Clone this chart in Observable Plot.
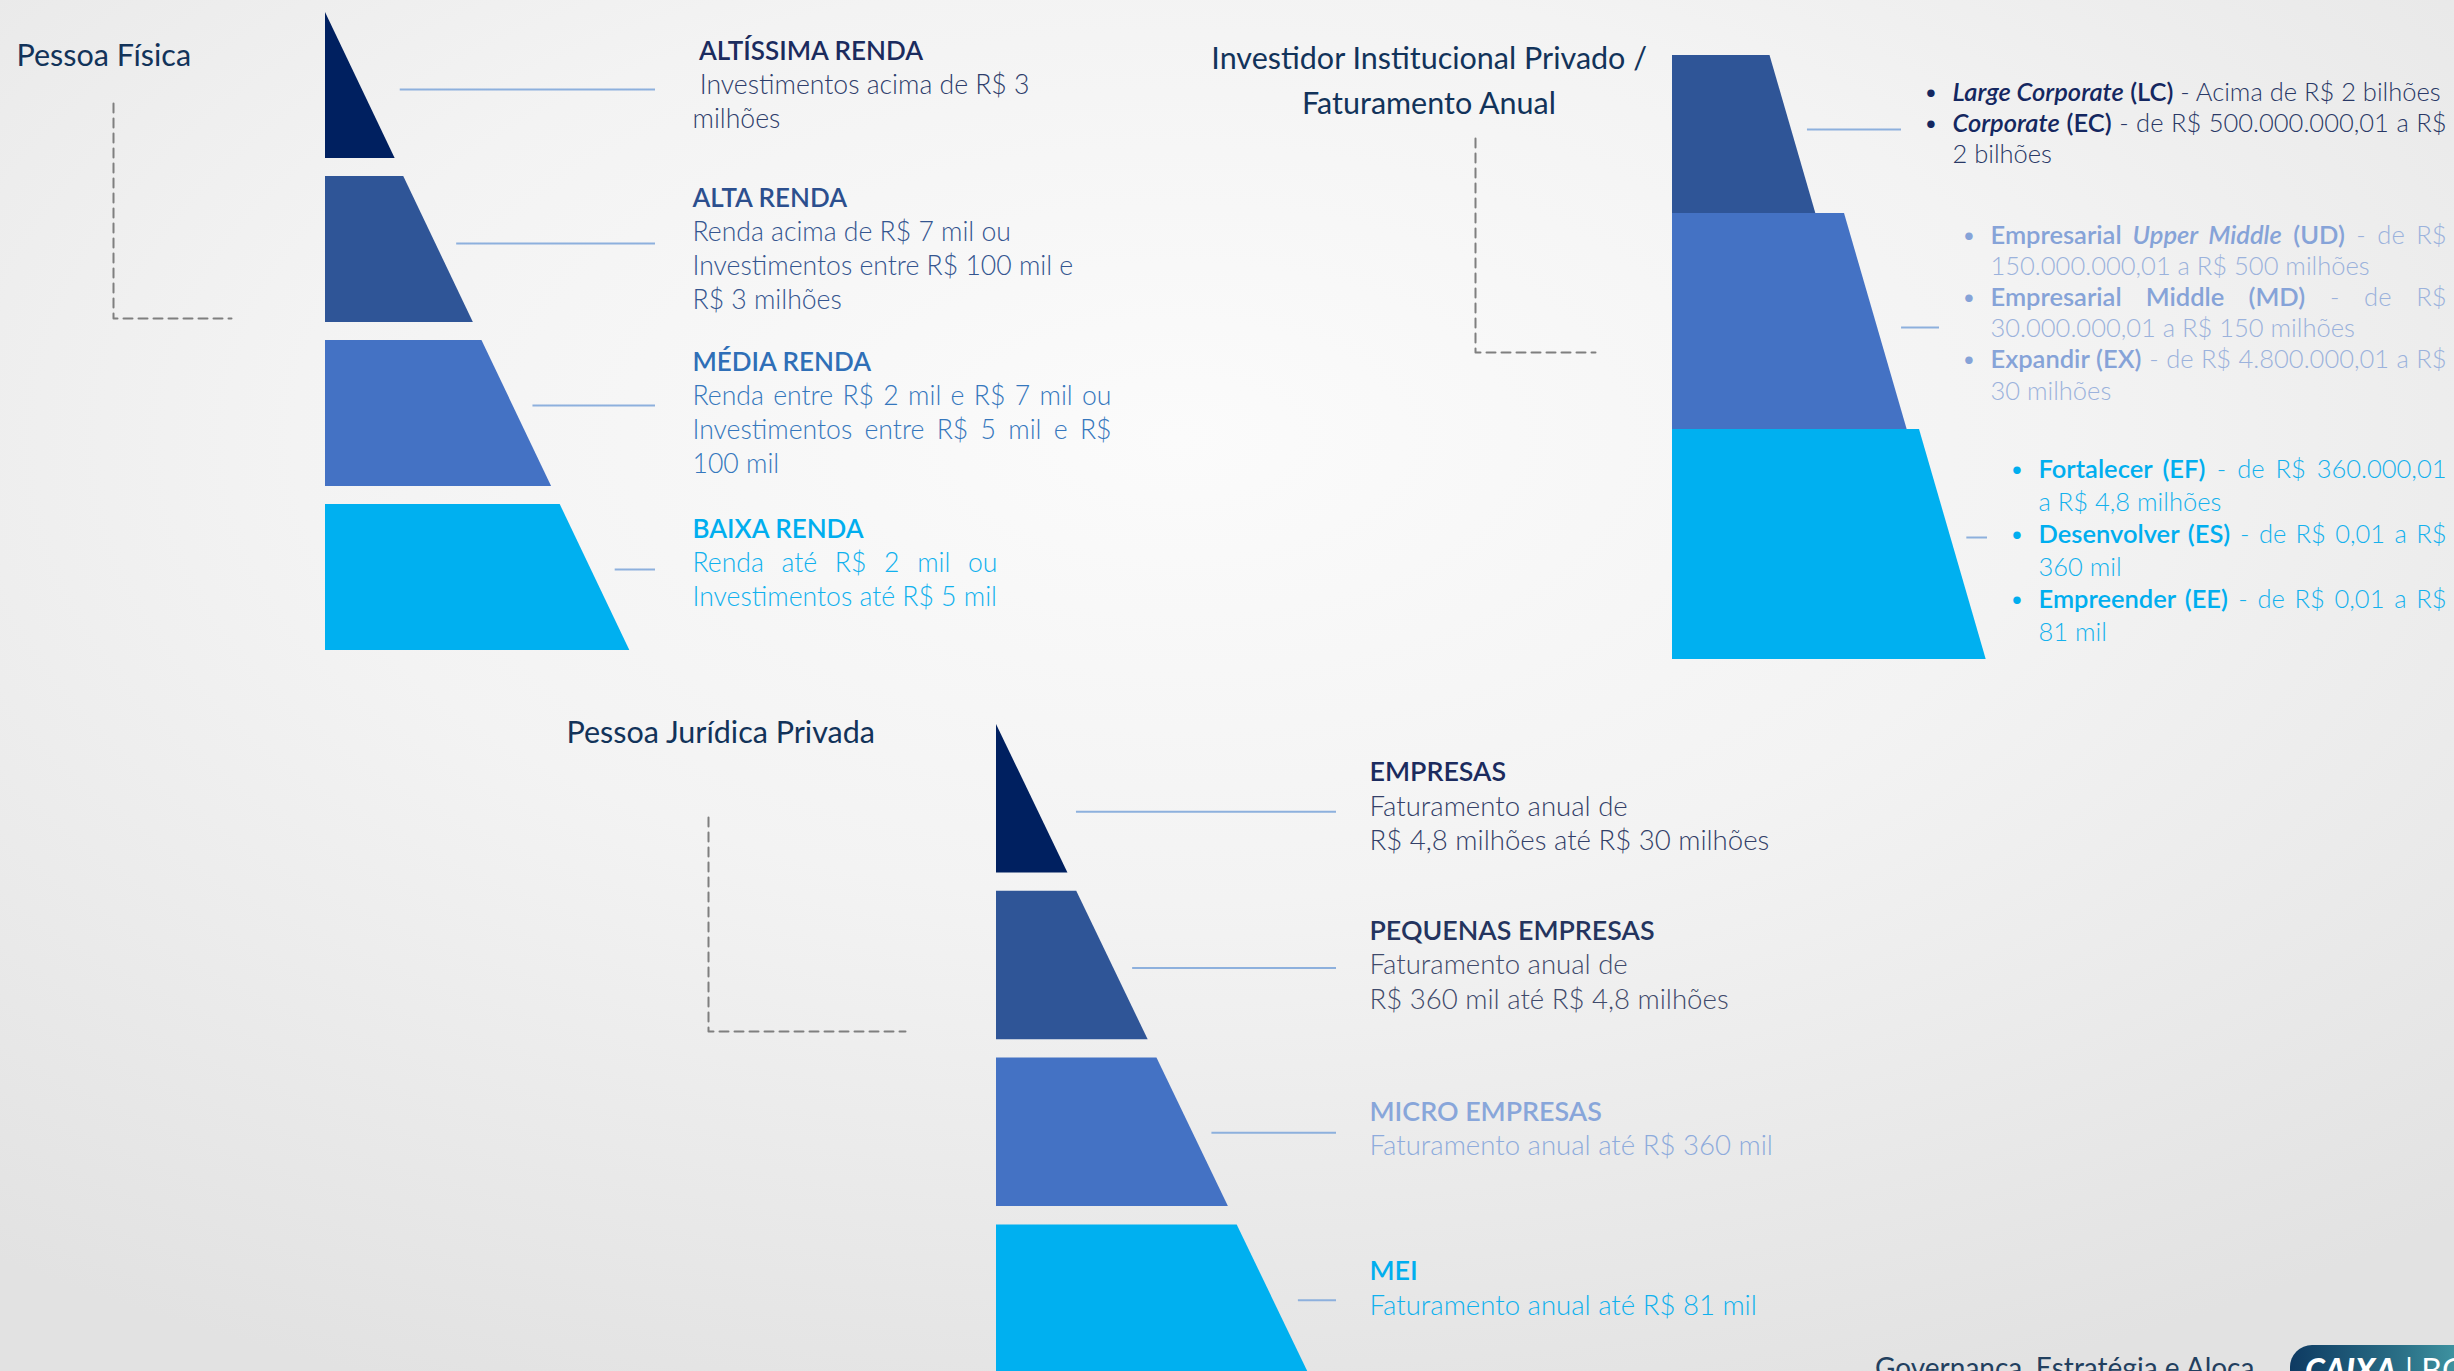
<!DOCTYPE html>
<html lang="pt-BR">
<head>
<meta charset="utf-8">
<title>Segmentação de clientes</title>
<script src="https://cdn.jsdelivr.net/npm/d3@7"></script>
<script src="https://cdn.jsdelivr.net/npm/@observablehq/plot@0.6"></script>
<style>
  html, body { margin:0; padding:0; width:2454px; height:1371px; overflow:hidden; }
  body { background: radial-gradient(ellipse 80% 75% at 48% 32%, #fbfbfb 0%, #f3f3f3 45%, #e2e2e2 100%); font-family: Lato, sans-serif; position:relative; }
  #chart { position:absolute; left:0; top:0; }
  #footer { position:absolute; left:1875px; top:1353px; font: 400 28px/28px Lato, sans-serif; color:#22405f; white-space:nowrap; }
  #logo { position:absolute; left:2290px; top:1345px; width:200px; height:60px; border-top-left-radius:22px;
          background: linear-gradient(90deg, #0e3a62 0%, #2a6f86 55%, #4aa8b0 100%); overflow:hidden; }
  #logo span { position:absolute; top:9px; font: 32px/32px Lato, sans-serif; color:#fff; white-space:nowrap; }
</style>
</head>
<body>
<div id="chart"></div>
<div id="footer"></div>
<div id="logo"><span id="logo1" style="left:15px;font-weight:900;font-style:italic;"></span><span id="logo2" style="left:115px;font-weight:400;"></span></div>
<script>
// ================= DATA =================
const pfTitle = ["Pessoa Física"];
const pfTiers = [" ALTÍSSIMA RENDA", "ALTA RENDA", "MÉDIA RENDA", "BAIXA RENDA"];
const pfText = [
  [" Investimentos acima de R$ 3", "milhões"],
  ["Renda acima de R$ 7 mil ou", "Investimentos entre R$ 100 mil e", "R$ 3 milhões"],
  ["Renda entre R$ 2 mil e R$ 7 mil ou", "Investimentos entre R$ 5 mil e R$", "100 mil"],
  ["Renda até R$ 2 mil ou", "Investimentos até R$ 5 mil"]
];

const invTitle = ["Investidor Institucional Privado /", "Faturamento Anual"];
// markup: **bold**  _italic_  "• " = bullet
const invText = [
  ["• **_Large Corporate_ (LC)** - Acima de R$ 2 bilhões",
   "• **_Corporate_ (EC)** - de R$ 500.000.000,01 a R$",
   "2 bilhões"],
  ["• **Empresarial _Upper Middle_ (UD)** - de R$",
   "150.000.000,01 a R$ 500 milhões",
   "• **Empresarial Middle (MD)** - de R$",
   "30.000.000,01 a R$ 150 milhões",
   "• **Expandir (EX)** - de R$ 4.800.000,01 a R$",
   "30 milhões"],
  ["• **Fortalecer (EF)** - de R$ 360.000,01",
   "a R$ 4,8 milhões",
   "• **Desenvolver (ES)** - de R$ 0,01 a R$",
   "360 mil",
   "• **Empreender (EE)** - de R$ 0,01 a R$",
   "81 mil"]
];

const pjTitle = ["Pessoa Jurídica Privada"];
const pjTiers = ["EMPRESAS", "PEQUENAS EMPRESAS", "MICRO EMPRESAS", "MEI"];
const pjText = [
  ["Faturamento anual de", "R$ 4,8 milhões até R$ 30 milhões"],
  ["Faturamento anual de", "R$ 360 mil até R$ 4,8 milhões"],
  ["Faturamento anual até R$ 360 mil"],
  ["Faturamento anual até R$ 81 mil"]
];

const footerText = ["Governança, Estratégia e Aloca"];
const logoText = ["CAIXA", "| BG"];

// ================= LAYOUT & STYLE =================
const W = 2454, H = 1371;
const FONT = "Lato, 'Open Sans', sans-serif";
const layout = {
  pf:  {left:325, top:12, step:164, h:146, slope:0.477, textX:692, lineEnd:655, size:26.6, headSize:26, lh:33.7,
        lineGap:[38,21,20,24], lineDy:[4,-6,-8,-8],
        textDy:[0,0,0,-14], boxRight:[null,null,1111,997],
        bracket:{x:113, y1:103, y2:318, x2:231}, title:{x:16, y:56}},
  inv: {left:1672, bounds:[55,213,429,659], topWidth:[97.5,172,247], slope:0.29,
        bulletX:[1923,1961,2009], indent:29, right:2446, endBefore:22, size:25.5, lh:[31,31.2,32.5],
        lineGap:[16,24,16], lineDy:[-5,6,-7],
        textDy:[-11,-8,7], bracket:{x:1475, y1:138, y2:352, x2:1595}, title:{cx:1429, y:58.5, lh:45.5}},
  pj:  {left:996, top:724, step:166.8, h:148.5, slope:0.481, textX:1369, lineEnd:1336, size:27.6, headSize:26.8, lh:34.5,
        lineGap:[38,19,19,25], lineDy:[13,2.5,0.5,1],
        textDy:[8,0,-3,-10], bracket:{x:708, y1:817, y2:1031, x2:905}, title:{x:566, y:733}},
  titleSize: 30.5, strongWeight: 600, normalWeight: 300
};
const styles = {
  fills4: ["#002060", "#2f5597", "#4472c4", "#00b0f0"],
  fills3: ["#2f5597", "#4472c4", "#00b0f0"],
  pfColors: [{strong:"#1b2b5e", normal:"#2e3d6b"}, {strong:"#2c4f8e", normal:"#34558f"},
             {strong:"#2f6fb7", normal:"#3577bd"}, {strong:"#00aeef", normal:"#10b1ee"}],
  pjColors: [{strong:"#1b2b5e", normal:"#333f68"}, {strong:"#24345e", normal:"#3f4a6b"},
             {strong:"#88a6da", normal:"#8eabdc"}, {strong:"#00aeef", normal:"#10b1ee"}],
  invColors: [{strong:"#142760", normal:"#293866"}, {strong:"#86a3d8", normal:"#9bb2dc"},
              {strong:"#00aeef", normal:"#14b1ed"}],
  title: "#12335a", connector: "#8db0dd", bracket: "#7f7f7f"
};

// ================= TEXT LAYOUT HELPERS =================
const ctx = document.createElement("canvas").getContext("2d");
function fontStr(b, i, size) {
  return `${i ? "italic " : ""}${b ? layout.strongWeight : layout.normalWeight} ${size}px ${FONT}`;
}
function measure(text, b, i, size) { ctx.font = fontStr(b, i, size); return ctx.measureText(text).width; }
function parseRuns(s) {
  const runs = []; let b = false, i = false, buf = "";
  for (let k = 0; k < s.length; k++) {
    if (s.startsWith("**", k)) { if (buf) runs.push({t: buf, b, i}); buf = ""; b = !b; k++; continue; }
    if (s[k] === "_") { if (buf) runs.push({t: buf, b, i}); buf = ""; i = !i; continue; }
    buf += s[k];
  }
  if (buf) runs.push({t: buf, b, i});
  return runs;
}
function layoutLine(str, x0, y, size, colors, right) {
  const runs = parseRuns(str);
  const words = []; let pending = null, lead = 0;
  for (const r of runs) {
    for (const p of r.t.split(/( +)/)) {
      if (p === "") continue;
      if (/^ +$/.test(p)) {
        const w = measure(" ", r.b, r.i, size) * p.length;
        if (!words.length) lead += w; else pending = (pending || 0) + w;
      } else {
        words.push({text: p, b: r.b, i: r.i, gap: words.length ? (pending || 0) : 0,
                    spaced: words.length > 0 && pending != null, w: measure(p, r.b, r.i, size)});
        pending = null;
      }
    }
  }
  const natural = lead + d3.sum(words, w => w.w + w.gap);
  const nGaps = words.filter(w => w.spaced).length;
  const extra = (right != null && nGaps > 0) ? (right - x0 - natural) / nGaps : 0;
  let x = x0 + lead;
  words.forEach((w, k) => { if (k > 0) x += w.gap + (w.spaced ? extra : 0); w.x = x; x += w.w; });
  const segs = [];
  for (const w of words) {
    const last = segs[segs.length - 1];
    if (last && w.spaced && last.b === w.b && last.i === w.i) last.text += " " + w.text;
    else segs.push({x: w.x, y, text: w.text, b: w.b, i: w.i, size, ws: extra,
                    fill: (w.b || w.i) ? colors.strong : colors.normal});
  }
  return segs;
}

// ================= BUILD GEOMETRY =================
const shapeRows = [], connRows = [], bracketRows = [], segs = [], titleRows = [];
function addTier(key, top, bottom, xl, xrTop, xrBottom, fill) {
  shapeRows.push({key, y: top, x1: xl, x2: xrTop, fill});
  shapeRows.push({key, y: bottom, x1: xl, x2: xrBottom, fill});
}
function addBracket(key, br) {
  bracketRows.push({key, x: br.x, y: br.y1}, {key, x: br.x, y: br.y2}, {key, x: br.x2, y: br.y2});
}

// Pyramid panels (PF, PJ)
function pyramidPanel(name, L, tiers, texts, colors, justifyRight) {
  const edge = y => L.left + L.slope * (y - L.top);
  tiers.forEach((tier, i) => {
    const top = L.top + i * L.step, bottom = top + L.h, mid = (top + bottom) / 2;
    addTier(`${name}-${i}`, top, bottom, L.left, edge(top), edge(bottom), styles.fills4[i]);
    const ly = mid + L.lineDy[i];
    connRows.push({y: ly, x1: edge(ly) + L.lineGap[i], x2: L.lineEnd});
    const lines = [`**${tier}**`, ...texts[i]];
    const n = lines.length;
    const y0 = mid + L.textDy[i] - (n - 1) / 2 * L.lh;
    lines.forEach((ln, k) => {
      const right = (justifyRight && justifyRight[i] != null && k > 0 && k < n - 1) ? justifyRight[i] : null;
      segs.push(...layoutLine(ln, L.textX, y0 + k * L.lh, k === 0 ? L.headSize : L.size, colors[i], right));
    });
  });
  addBracket(name, L.bracket);
}
pyramidPanel("pf", layout.pf, pfTiers, pfText, styles.pfColors, layout.pf.boxRight);
pyramidPanel("pj", layout.pj, pjTiers, pjText, styles.pjColors, null);

// Stepped panel (Investidor Institucional)
{
  const L = layout.inv;
  invText.forEach((lines, i) => {
    const top = L.bounds[i], bottom = L.bounds[i + 1], mid = (top + bottom) / 2;
    const xrTop = L.left + L.topWidth[i];
    const edge = y => xrTop + L.slope * (y - top);
    addTier(`inv-${i}`, top, bottom, L.left, xrTop, edge(bottom), styles.fills3[i]);
    const ly = mid + L.lineDy[i];
    connRows.push({y: ly, x1: edge(ly) + L.lineGap[i], x2: L.bulletX[i] - L.endBefore});
    const n = lines.length, lh = L.lh[i];
    const y0 = mid + L.textDy[i] - (n - 1) / 2 * lh;
    const textX = L.bulletX[i] + L.indent;
    lines.forEach((ln, k) => {
      const y = y0 + k * lh;
      let body = ln;
      if (ln.startsWith("• ")) {
        segs.push({x: L.bulletX[i], y, text: "•", b: false, i: false, size: L.size, ws: 0, fill: styles.invColors[i].strong});
        body = ln.slice(2);
      }
      const next = lines[k + 1];
      const right = (next != null && !next.startsWith("• ")) ? L.right : null;
      segs.push(...layoutLine(body, textX, y, L.size, styles.invColors[i], right));
    });
  });
  addBracket("inv", L.bracket);
}

// Titles
const TS = layout.titleSize;
ctx.font = `400 ${TS}px ${FONT}`;
titleRows.push({x: layout.pf.title.x, y: layout.pf.title.y, text: pfTitle[0]});
invTitle.forEach((t, k) => titleRows.push({
  x: layout.inv.title.cx - ctx.measureText(t).width / 2,
  y: layout.inv.title.y + k * layout.inv.title.lh, text: t}));
titleRows.push({x: layout.pj.title.x, y: layout.pj.title.y, text: pjTitle[0]});

// ================= PLOT =================
const styleCombos = [[false, false], [true, false], [false, true], [true, true]];
const segGroups = styleCombos.map(([b, i]) => ({b, i, data: segs.filter(s => s.b === b && s.i === i)}))
  .filter(g => g.data.length);

const plot = Plot.plot({
  width: W, height: H, margin: 0,
  x: {domain: [0, W], range: [0, W], axis: null},
  y: {domain: [0, H], range: [0, H], axis: null},
  color: {type: "identity"},
  style: {background: "transparent", fontFamily: FONT, overflow: "hidden"},
  marks: [
    Plot.areaX(shapeRows, {y: "y", x1: "x1", x2: "x2", z: "key", fill: "fill"}),
    Plot.ruleY(connRows, {y: "y", x1: "x1", x2: "x2", stroke: styles.connector, strokeWidth: 2}),
    Plot.line(bracketRows, {x: "x", y: "y", z: "key", stroke: styles.bracket, strokeWidth: 2, strokeDasharray: "9,6"}),
    ...segGroups.map(g => Plot.text(g.data, {
      x: "x", y: "y", text: "text", fill: "fill", fontSize: d => d.size,
      textAnchor: "start", lineAnchor: "middle", fontFamily: FONT,
      fontWeight: g.b ? layout.strongWeight : layout.normalWeight, fontStyle: g.i ? "italic" : "normal"
    })),
    Plot.text(titleRows, {x: "x", y: "y", text: "text", fill: styles.title, fontSize: TS,
      textAnchor: "start", lineAnchor: "middle", fontFamily: FONT, fontWeight: 400})
  ]
});
document.getElementById("chart").append(plot);

// apply justification word-spacing to the rendered segment groups
const textGroups = plot.querySelectorAll('g[aria-label="text"]');
segGroups.forEach((g, gi) => {
  const nodes = textGroups[gi] ? textGroups[gi].querySelectorAll("text") : [];
  nodes.forEach((node, j) => {
    const d = g.data[j];
    if (d && d.ws) node.style.wordSpacing = d.ws.toFixed(2) + "px";
  });
});

// footer & logo
document.getElementById("footer").textContent = footerText[0];
document.getElementById("logo1").textContent = logoText[0];
document.getElementById("logo2").textContent = logoText[1];
</script>
</body>
</html>
